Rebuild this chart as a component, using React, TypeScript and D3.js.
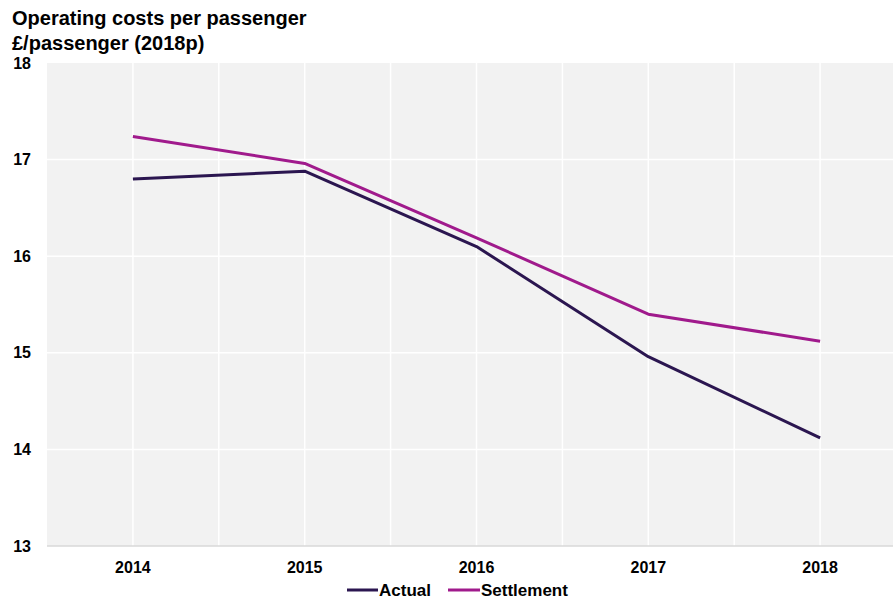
import React from "react";
import * as d3 from "d3";

const years = ["2014", "2015", "2016", "2017", "2018"];
const actual = [16.8, 16.88, 16.1, 14.96, 14.12];
const settlement = [17.24, 16.96, 16.19, 15.4, 15.12];
const yTicks = [13, 14, 15, 16, 17, 18];

const W = 893;
const H = 599;
const left = 47;
const right = 906;
const top = 63;
const bottom = 546;
const FONT = "'Liberation Sans', Arial, sans-serif";
const C_ACTUAL = "#2b1650";
const C_SETTLE = "#a01a8c";

export default function App() {
  const x = d3.scaleBand<string>().domain(years).range([left, right]);
  const y = d3.scaleLinear().domain([13, 18]).range([bottom, top]);
  const cx = (d: string) => (x(d) as number) + x.bandwidth() / 2;
  const line = d3
    .line<number>()
    .x((_, i) => cx(years[i]))
    .y((v) => y(v));

  const vgrid: number[] = [];
  years.forEach((yr, i) => {
    if (i > 0) vgrid.push(x(yr) as number);
    vgrid.push(cx(yr));
  });

  return (
    <svg
      width={W}
      height={H}
      style={{ position: "absolute", left: 0, top: 0, fontFamily: FONT }}
    >
      <rect x={0} y={0} width={W} height={H} fill="#fff" />
      <text x={12} y={25} fontSize={20} fontWeight="bold" fill="#000">
        Operating costs per passenger
      </text>
      <text x={12} y={50} fontSize={20} fontWeight="bold" fill="#000">
        £/passenger (2018p)
      </text>
      <rect x={left} y={top} width={right - left} height={bottom - top} fill="#f2f2f2" />
      {yTicks.slice(1, -1).map((t) => (
        <line key={t} x1={left} x2={right} y1={y(t)} y2={y(t)} stroke="#fff" strokeWidth={1.5} />
      ))}
      {vgrid.map((gx, i) => (
        <line key={i} x1={gx} x2={gx} y1={top} y2={bottom} stroke="#fff" strokeWidth={1.5} />
      ))}
      <line x1={left} x2={right} y1={bottom} y2={bottom} stroke="#d9d9d9" strokeWidth={1.5} />
      {yTicks.map((t) => (
        <text
          key={t}
          x={31}
          y={y(t)}
          textAnchor="end"
          dominantBaseline="central"
          fontSize={16}
          fontWeight="bold"
          fill="#000"
        >
          {t}
        </text>
      ))}
      {years.map((yr) => (
        <text
          key={yr}
          x={cx(yr)}
          y={567}
          textAnchor="middle"
          dominantBaseline="central"
          fontSize={16}
          fontWeight="bold"
          fill="#000"
        >
          {yr}
        </text>
      ))}
      <path d={line(settlement) || ""} fill="none" stroke={C_SETTLE} strokeWidth={3} strokeLinejoin="round" />
      <path d={line(actual) || ""} fill="none" stroke={C_ACTUAL} strokeWidth={3} strokeLinejoin="round" />
      <g>
        <line x1={347} x2={378} y1={590} y2={590} stroke={C_ACTUAL} strokeWidth={3} />
        <text x={379} y={590} dominantBaseline="central" fontSize={17} fontWeight="bold" fill="#000">
          Actual
        </text>
        <line x1={448} x2={480} y1={590} y2={590} stroke={C_SETTLE} strokeWidth={3} />
        <text x={481} y={590} dominantBaseline="central" fontSize={17} fontWeight="bold" fill="#000">
          Settlement
        </text>
      </g>
    </svg>
  );
}
